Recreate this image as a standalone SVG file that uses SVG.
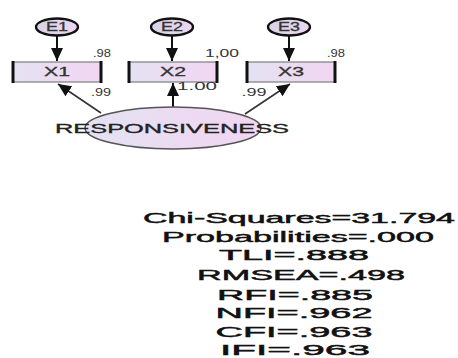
<svg xmlns="http://www.w3.org/2000/svg" width="458" height="358" viewBox="0 0 458 358">
<style>
  text { font-family: "Liberation Sans", Arial, sans-serif; fill: #222; }
  .lbl { font-size: 11px; text-anchor: middle; fill: #333; }
  .nm { font-size: 12px; text-anchor: middle; fill: #333; stroke: #333; stroke-width: 0.3; }
  .stat { font-size: 14.5px; text-anchor: middle; fill: #111; stroke: #111; stroke-width: 0.45; }
  .err { fill: url(#gE); stroke: #111; stroke-width: 2.4; }
  .box { fill: url(#gB); stroke: #666; stroke-width: 1; }
  .side { stroke: #111; stroke-width: 3; }
  .con { stroke: #111; stroke-width: 2; fill: none; }
  .con2 { stroke: #333; stroke-width: 1.6; fill: none; }
</style>
<defs>
  <linearGradient id="gB" x1="0" y1="0" x2="1" y2="0">
    <stop offset="0" stop-color="#e4e2f2"/>
    <stop offset="1" stop-color="#f2d6f2"/>
  </linearGradient>
  <linearGradient id="gE" x1="0" y1="0" x2="1" y2="0">
    <stop offset="0" stop-color="#d8d2e8"/>
    <stop offset="1" stop-color="#ecd8ee"/>
  </linearGradient>
  <marker id="ah" markerUnits="userSpaceOnUse" markerWidth="13" markerHeight="12" refX="13" refY="6" orient="auto">
    <path d="M0,0 L13,6 L0,12 z" fill="#111"/>
  </marker>
</defs>
<rect width="458" height="358" fill="#ffffff"/>
<g id="connectors">
  <line class="con" x1="57" y1="35" x2="57" y2="61" marker-end="url(#ah)"/>
  <line class="con" x1="172" y1="35" x2="172" y2="61" marker-end="url(#ah)"/>
  <line class="con" x1="289" y1="35" x2="289" y2="61" marker-end="url(#ah)"/>
  <line class="con2" x1="101" y1="113" x2="58" y2="84" marker-end="url(#ah)"/>
  <line class="con" x1="173" y1="107" x2="173" y2="83" marker-end="url(#ah)"/>
  <line class="con2" x1="245" y1="114" x2="290" y2="84" marker-end="url(#ah)"/>
</g>
<g id="E1">
  <ellipse class="err" cx="57" cy="27" rx="21" ry="8.5"/>
  <text class="nm" x="57" y="31" textLength="22" lengthAdjust="spacingAndGlyphs">E1</text>
</g>
<g id="E2">
  <ellipse class="err" cx="172" cy="27" rx="21" ry="8.5"/>
  <text class="nm" x="172" y="31" textLength="22" lengthAdjust="spacingAndGlyphs">E2</text>
</g>
<g id="E3">
  <ellipse class="err" cx="289" cy="27" rx="21" ry="8.5"/>
  <text class="nm" x="289" y="31" textLength="22" lengthAdjust="spacingAndGlyphs">E3</text>
</g>
<g id="X1">
  <rect class="box" x="13" y="62" width="88" height="20"/>
  <line class="side" x1="13" y1="61" x2="13" y2="83"/>
  <line class="side" x1="101" y1="61" x2="101" y2="83"/>
  <text class="nm" x="57" y="76" textLength="26" lengthAdjust="spacingAndGlyphs">X1</text>
</g>
<g id="X2">
  <rect class="box" x="129" y="62" width="88" height="20"/>
  <line class="side" x1="129" y1="61" x2="129" y2="83"/>
  <line class="side" x1="217" y1="61" x2="217" y2="83"/>
  <text class="nm" x="173" y="76" textLength="26" lengthAdjust="spacingAndGlyphs">X2</text>
</g>
<g id="X3">
  <rect class="box" x="247" y="62" width="88" height="20"/>
  <line class="side" x1="247" y1="61" x2="247" y2="83"/>
  <line class="side" x1="335" y1="61" x2="335" y2="83"/>
  <text class="nm" x="291" y="76" textLength="26" lengthAdjust="spacingAndGlyphs">X3</text>
</g>
<g id="RESPONSIVENESS">
  <ellipse cx="173" cy="128" rx="88" ry="21" fill="url(#gB)" stroke="#555" stroke-width="1.5"/>
  <text x="172" y="133" font-size="13.5" text-anchor="middle" fill="#222" stroke="#222" stroke-width="0.35" textLength="234" lengthAdjust="spacingAndGlyphs">RESPONSIVENESS</text>
</g>
<g id="labels">
  <text class="lbl" x="102" y="57" textLength="18" lengthAdjust="spacingAndGlyphs">.98</text>
  <text class="lbl" x="222" y="57" textLength="34" lengthAdjust="spacingAndGlyphs">1,00</text>
  <text class="lbl" x="336" y="57" textLength="18" lengthAdjust="spacingAndGlyphs">.98</text>
  <text class="lbl" x="101" y="96" textLength="20" lengthAdjust="spacingAndGlyphs">.99</text>
  <text class="lbl" x="197" y="90" textLength="40" lengthAdjust="spacingAndGlyphs">1.00</text>
  <text class="lbl" x="254" y="96" textLength="25" lengthAdjust="spacingAndGlyphs">.99</text>
</g>
<g id="stats">
  <text class="stat" x="299" y="223" textLength="312" lengthAdjust="spacingAndGlyphs">Chi-Squares=31.794</text>
  <text class="stat" x="298" y="242" textLength="272" lengthAdjust="spacingAndGlyphs">Probabilities=.000</text>
  <text class="stat" x="294" y="260" textLength="150" lengthAdjust="spacingAndGlyphs">TLI=.888</text>
  <text class="stat" x="301" y="280" textLength="208" lengthAdjust="spacingAndGlyphs">RMSEA=.498</text>
  <text class="stat" x="295" y="300" textLength="156" lengthAdjust="spacingAndGlyphs">RFI=.885</text>
  <text class="stat" x="294" y="318" textLength="157" lengthAdjust="spacingAndGlyphs">NFI=.962</text>
  <text class="stat" x="294" y="337" textLength="157" lengthAdjust="spacingAndGlyphs">CFI=.963</text>
  <text class="stat" x="295" y="355" textLength="150" lengthAdjust="spacingAndGlyphs">IFI=.963</text>
</g>
</svg>
